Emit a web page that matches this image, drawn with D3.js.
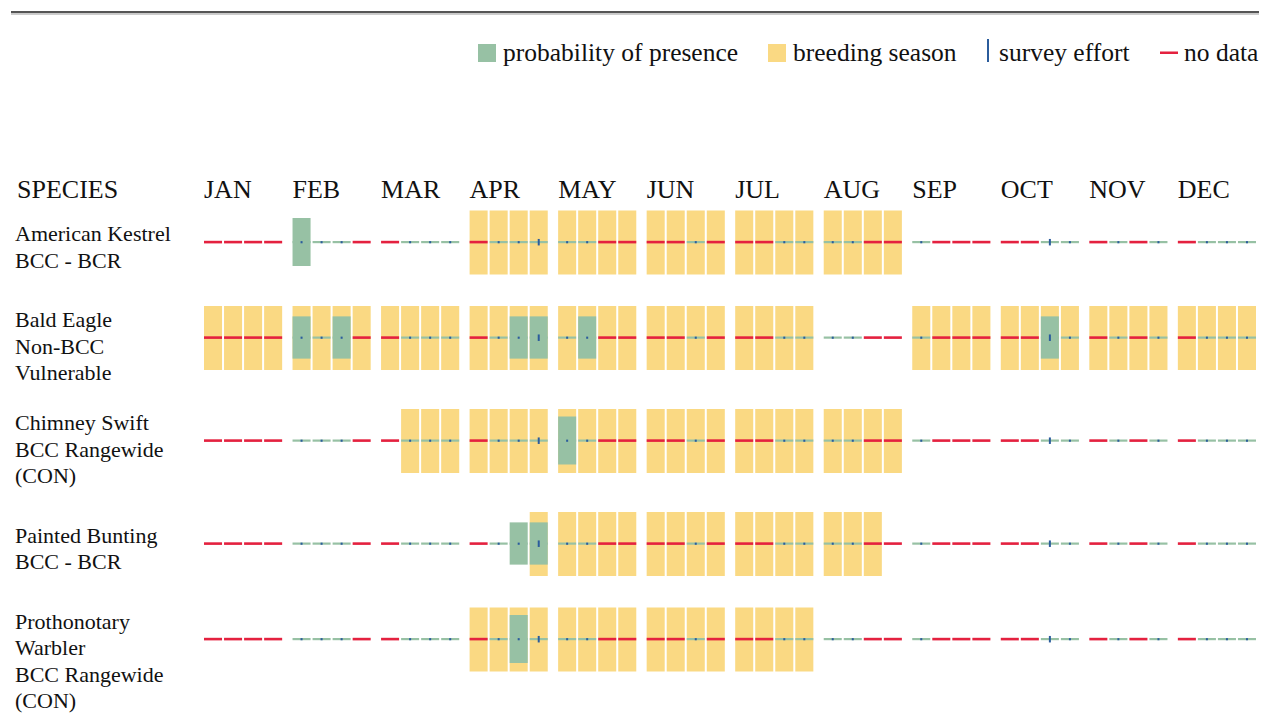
<!DOCTYPE html>
<html lang="en">
<head>
<meta charset="utf-8">
<script src="https://d3js.org/d3.v7.min.js"></script>
<title>Probability of presence</title>
<style>
  html, body { margin: 0; padding: 0; background: #fff; }
  svg { display: block; font-family: "Liberation Serif", "Times New Roman", serif; }
</style>
</head>
<body>
<script>
  var width = 1270, height = 713;

  // months and weeks
  var months = ["JAN", "FEB", "MAR", "APR", "MAY", "JUN", "JUL", "AUG", "SEP", "OCT", "NOV", "DEC"];
  var weeks = [0, 1, 2, 3];

  // species labels (one entry per line)
  var speciesLabels = [
    ["American Kestrel", "BCC - BCR"],
    ["Bald Eagle", "Non-BCC", "Vulnerable"],
    ["Chimney Swift", "BCC Rangewide", "(CON)"],
    ["Painted Bunting", "BCC - BCR"],
    ["Prothonotary", "Warbler", "BCC Rangewide", "(CON)"]
  ];

  // survey effort per week, shared by all species (null = no data)
  var surveyEffort = [
    null, null, null, null,   // JAN
    1, 1, 1, null,            // FEB
    null, 1, 1, 1,            // MAR
    null, 1, 1, 3,            // APR
    1, 1, null, null,         // MAY
    null, null, 1, null,      // JUN
    null, null, 1, 1,         // JUL
    1, 1, null, null,         // AUG
    1, null, null, null,      // SEP
    null, null, 3, 1,         // OCT
    null, 1, null, 1,         // NOV
    null, 1, 1, 1             // DEC
  ];

  // breeding season flags per week
  var kestrelBreeding = [0,0,0,0, 0,0,0,0, 0,0,0,0, 1,1,1,1, 1,1,1,1, 1,1,1,1, 1,1,1,1, 1,1,1,1, 0,0,0,0, 0,0,0,0, 0,0,0,0, 0,0,0,0];
  var eagleBreeding   = [1,1,1,1, 1,1,1,1, 1,1,1,1, 1,1,1,1, 1,1,1,1, 1,1,1,1, 1,1,1,1, 0,0,0,0, 1,1,1,1, 1,1,1,1, 1,1,1,1, 1,1,1,1];
  var swiftBreeding   = [0,0,0,0, 0,0,0,0, 0,1,1,1, 1,1,1,1, 1,1,1,1, 1,1,1,1, 1,1,1,1, 1,1,1,1, 0,0,0,0, 0,0,0,0, 0,0,0,0, 0,0,0,0];
  var buntingBreeding = [0,0,0,0, 0,0,0,0, 0,0,0,0, 0,0,0,1, 1,1,1,1, 1,1,1,1, 1,1,1,1, 1,1,1,0, 0,0,0,0, 0,0,0,0, 0,0,0,0, 0,0,0,0];
  var warblerBreeding = [0,0,0,0, 0,0,0,0, 0,0,0,0, 1,1,1,1, 1,1,1,1, 1,1,1,1, 1,1,1,1, 0,0,0,0, 0,0,0,0, 0,0,0,0, 0,0,0,0, 0,0,0,0];

  // probability of presence per week (0-10)
  var kestrelPresence = [0,0,0,0, 10,0,0,0, 0,0,0,0, 0,0,0,0, 0,0,0,0, 0,0,0,0, 0,0,0,0, 0,0,0,0, 0,0,0,0, 0,0,0,0, 0,0,0,0, 0,0,0,0];
  var eaglePresence   = [0,0,0,0, 8.8,0,8.8,0, 0,0,0,0, 0,0,8.8,8.8, 0,8.8,0,0, 0,0,0,0, 0,0,0,0, 0,0,0,0, 0,0,0,0, 0,0,8.8,0, 0,0,0,0, 0,0,0,0];
  var swiftPresence   = [0,0,0,0, 0,0,0,0, 0,0,0,0, 0,0,0,0, 10,0,0,0, 0,0,0,0, 0,0,0,0, 0,0,0,0, 0,0,0,0, 0,0,0,0, 0,0,0,0, 0,0,0,0];
  var buntingPresence = [0,0,0,0, 0,0,0,0, 0,0,0,0, 0,0,8.8,8.8, 0,0,0,0, 0,0,0,0, 0,0,0,0, 0,0,0,0, 0,0,0,0, 0,0,0,0, 0,0,0,0, 0,0,0,0];
  var warblerPresence = [0,0,0,0, 0,0,0,0, 0,0,0,0, 0,0,10,0, 0,0,0,0, 0,0,0,0, 0,0,0,0, 0,0,0,0, 0,0,0,0, 0,0,0,0, 0,0,0,0, 0,0,0,0];

  var breeding = [kestrelBreeding, eagleBreeding, swiftBreeding, buntingBreeding, warblerBreeding];
  var presence = [kestrelPresence, eaglePresence, swiftPresence, buntingPresence, warblerPresence];

  var legendItems = ["probability of presence", "breeding season", "survey effort", "no data"];

  var colors = {
    presence: "#97c1a4",
    breeding: "#fad983",
    effort: "#2b5c9c",
    nodata: "#e4213f",
    text: "#111"
  };

  var svg = d3.select("body").append("svg")
    .attr("width", width)
    .attr("height", height);

  // top rule
  svg.append("rect").attr("x", 11).attr("y", 11).attr("width", 1248).attr("height", 2.3).attr("fill", "#555");
  svg.append("rect").attr("x", 11).attr("y", 13.3).attr("width", 1248).attr("height", 1.6).attr("fill", "#c8c8c8");

  // scales
  var xMonth = d3.scaleBand()
    .domain(months)
    .range([203, 1257])
    .paddingInner(8.36 / 88.36)
    .paddingOuter(0);

  var xWeek = d3.scaleBand()
    .domain(weeks)
    .range([0, xMonth.bandwidth()])
    .paddingInner(0.1)
    .paddingOuter(0.05);

  var hPresence = d3.scaleLinear().domain([0, 10]).range([0, 48]);
  var hEffort = d3.scaleLinear().domain([0, 3]).range([0, 6.5]);

  function weekX(i) {
    return xMonth(months[Math.floor(i / 4)]) + xWeek(i % 4);
  }
  var bw = xWeek.bandwidth();

  // row centres depend on how many label lines each row has
  var rowCentres = [];
  var yc = 242;
  speciesLabels.forEach(function(lines, i) {
    rowCentres.push(yc);
    yc += lines.length > 2 ? 103 : 95.5;
  });

  // header
  svg.append("text")
    .attr("x", 17).attr("y", 198)
    .attr("font-size", 26).attr("fill", colors.text)
    .text("SPECIES");

  svg.selectAll("text.month")
    .data(months)
    .join("text")
    .attr("class", "month")
    .attr("x", function(d) { return xMonth(d) + 1; })
    .attr("y", 198)
    .attr("font-size", 26)
    .attr("fill", colors.text)
    .text(function(d) { return d; });

  // rows
  var rows = svg.selectAll("g.row")
    .data(speciesLabels)
    .join("g")
    .attr("class", "row")
    .attr("transform", function(d, i) { return "translate(0," + rowCentres[i] + ")"; });

  rows.append("text")
    .attr("font-size", 22)
    .attr("fill", colors.text)
    .selectAll("tspan")
    .data(function(d) { return d.map(function(t, j) { return { t: t, j: j, n: d.length }; }); })
    .join("tspan")
    .attr("x", 15)
    .attr("y", function(d) { return (d.n > 2 ? -10.5 : -1) + d.j * 26.5; })
    .text(function(d) { return d.t; });

  rows.each(function(lines, r) {
    var g = d3.select(this);
    var cells = d3.range(48).map(function(i) {
      return { i: i, breed: breeding[r][i], prob: presence[r][i], effort: surveyEffort[i] };
    });

    g.selectAll("rect.breed")
      .data(cells.filter(function(d) { return d.breed; }))
      .join("rect")
      .attr("class", "breed")
      .attr("x", function(d) { return weekX(d.i); })
      .attr("y", -31.5)
      .attr("width", bw)
      .attr("height", 64)
      .attr("fill", colors.breeding);

    g.selectAll("rect.base")
      .data(cells)
      .join("rect")
      .attr("class", "base")
      .attr("x", function(d) { return weekX(d.i); })
      .attr("y", function(d) { return d.effort === null ? -1.2 : -1; })
      .attr("width", bw)
      .attr("height", function(d) { return d.effort === null ? 2.6 : 2.2; })
      .attr("fill", function(d) { return d.effort === null ? colors.nodata : colors.presence; });

    g.selectAll("rect.prob")
      .data(cells.filter(function(d) { return d.prob > 0; }))
      .join("rect")
      .attr("class", "prob")
      .attr("x", function(d) { return weekX(d.i); })
      .attr("y", function(d) { return -hPresence(d.prob) / 2; })
      .attr("width", bw)
      .attr("height", function(d) { return hPresence(d.prob); })
      .attr("fill", colors.presence);

    g.selectAll("rect.effort")
      .data(cells.filter(function(d) { return d.effort !== null; }))
      .join("rect")
      .attr("class", "effort")
      .attr("x", function(d) { return weekX(d.i) + bw / 2 - 1; })
      .attr("y", function(d) { return -hEffort(d.effort) / 2 + 0.2; })
      .attr("width", 2)
      .attr("height", function(d) { return hEffort(d.effort); })
      .attr("fill", colors.effort);
  });

  // legend
  var legend = svg.append("g").attr("font-size", 25.5).attr("fill", colors.text);
  var lx = [478, 768, 978, 1160];
  var lt = [503, 793, 999, 1184];

  legend.append("rect").attr("x", lx[0]).attr("y", 44).attr("width", 18).attr("height", 18).attr("fill", colors.presence);
  legend.append("rect").attr("x", lx[1]).attr("y", 44).attr("width", 18).attr("height", 18).attr("fill", colors.breeding);
  legend.append("rect").attr("x", 987).attr("y", 39).attr("width", 2).attr("height", 23).attr("fill", colors.effort);
  legend.append("rect").attr("x", lx[3]).attr("y", 51.5).attr("width", 18).attr("height", 2.5).attr("fill", colors.nodata);

  legend.selectAll("text")
    .data(legendItems)
    .join("text")
    .attr("x", function(d, i) { return lt[i]; })
    .attr("y", 61)
    .text(function(d) { return d; });
</script>
</body>
</html>
